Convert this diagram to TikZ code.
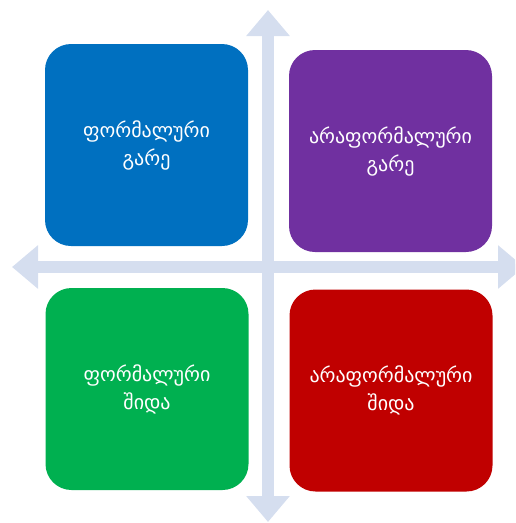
\documentclass[tikz,border=0pt]{standalone}
\usepackage{fontspec}
\usepackage{tikz}
\usetikzlibrary{arrows.meta,positioning}
\newfontfamily\geofont{DejaVu Sans}
\definecolor{axisblue}{HTML}{D5DEEF}
\definecolor{quadblue}{HTML}{0070C0}
\definecolor{quadpurple}{HTML}{7030A0}
\definecolor{quadgreen}{HTML}{00B050}
\definecolor{quadred}{HTML}{C00000}

\begin{document}
\begin{tikzpicture}[x=1pt, y=-1pt,
    quad/.style={rectangle, rounded corners=26pt, minimum width=203pt, minimum height=202pt, text=white, align=center, font=\geofont\fontsize{20}{28}\selectfont},
    axis/.style={draw=axisblue, line width=12pt, {Triangle[width=42pt,length=26pt]}-{Triangle[width=42pt,length=26pt]}}]
    \useasboundingbox (0,0) rectangle (515,523);
    \clip (0,0) rectangle (515,523);

    % axes
    \coordinate (top) at (268,10);
    \coordinate (bottom) at (268,522);
    \coordinate (left) at (12,267);
    \coordinate (right) at (524,267);
    \draw[axis] (top) -- (bottom);
    \draw[axis] (left) -- (right);

    % quadrants
    \node (fext) [quad, fill=quadblue] at (146.5,145) {ფორმალური\\გარე};
    \node (iext) [quad, fill=quadpurple] at (390.5,151) {არაფორმალური\\გარე};
    \node (fint) [quad, fill=quadgreen] at (147,389) {ფორმალური\\შიდა};
    \node (iint) [quad, fill=quadred] at (391,390.5) {არაფორმალური\\შიდა};
\end{tikzpicture}
\end{document}
